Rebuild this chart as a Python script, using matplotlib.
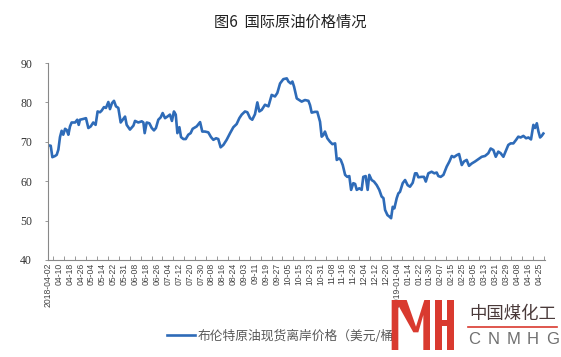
import numpy as np
import matplotlib
matplotlib.use("Agg")
import matplotlib.pyplot as plt
from matplotlib.patches import Polygon, Rectangle

# trading-day position (0 = 2018-04-02) and Brent price
days = [0.2, 1.5, 2.4, 3.9, 4.8, 5.7, 6.6, 7.5, 8.4, 9.4, 10.3, 11.2, 12.1, 13.0, 14.9,
        16.1, 16.9, 17.6, 19.4, 20.9, 22.2, 23.5, 24.9, 26.2, 27.3, 28.6, 29.5, 30.8,
        31.9, 33.2, 34.1, 35.2, 36.3, 37.4, 38.7, 40.0, 41.1, 42.4, 43.3, 45.1, 47.0,
        47.9, 49.7, 51.6, 52.5, 53.2, 54.3, 55.8, 57.1, 58.3, 59.4, 60.7, 62.0, 63.1,
        64.4, 65.7, 67.1, 68.2, 69.3, 70.3, 71.2, 72.3, 73.2, 74.5, 75.8, 77.2, 78.5,
        79.6, 81.8, 83.7, 84.9, 86.4, 88.2, 89.7, 91.0, 92.5, 93.7, 95.0, 96.5, 98.3,
        100.2, 102.0, 103.8, 105.3, 106.6, 108.4, 109.7, 111.2, 112.4, 113.9, 115.2,
        116.3, 117.6, 119.4, 121.3, 123.1, 124.9, 126.2, 127.7, 129.5, 131.4, 132.3,
        133.6, 134.5, 135.4, 136.9, 138.3, 139.6, 141.4, 143.3, 144.2, 145.1, 146.9,
        148.2, 149.7, 150.6, 151.5, 152.4, 153.7, 155.2, 156.5, 158.0, 158.9, 160.2,
        161.1, 162.2, 163.5, 164.7, 165.8, 166.8, 168.0, 169.0, 169.9, 171.3, 172.6,
        173.5, 174.8, 175.9, 176.8, 178.1, 179.4, 180.9, 182.3, 183.6, 184.6, 185.5,
        186.8, 187.9, 188.8, 189.7, 190.6, 191.9, 192.8, 193.7, 195.2, 196.5, 197.9,
        199.2, 200.7, 202.0, 202.9, 203.8, 205.6, 206.9, 207.9, 209.3, 211.1, 212.6,
        213.9, 214.8, 216.1, 217.6, 219.4, 220.9, 222.2, 223.4, 224.9, 226.2, 227.7,
        228.9, 230.4, 231.7, 233.2, 235.0, 236.8, 238.7, 240.5, 242.3, 243.6, 245.1,
        246.4, 247.8, 249.1, 250.6, 252.1, 253.3, 254.6, 256.1, 257.6, 258.8, 260.1,
        261.6, 263.1, 264.4, 265.8, 267.1, 268.0, 269.0, 269.9, 270.8, 271.7, 272.6]
prices = [69.1, 69.0, 66.1, 66.4, 66.7, 68.0, 71.2, 72.8, 71.8, 73.3, 73.0, 71.8, 73.9, 74.9, 74.9,
          75.6, 74.3, 75.6, 75.8, 76.0, 73.5, 73.9, 74.9, 74.3, 77.7, 77.5, 77.9, 78.8,
          78.6, 80.1, 78.3, 79.8, 80.4, 79.0, 78.6, 74.9, 75.6, 76.4, 74.3, 73.1, 74.1,
          75.3, 74.9, 75.2, 74.9, 72.2, 74.9, 74.7, 73.5, 72.9, 73.5, 75.6, 76.2, 77.3,
          76.0, 76.4, 76.9, 75.3, 77.7, 76.9, 72.2, 73.7, 71.2, 70.7, 70.7, 71.8, 72.2,
          73.3, 73.9, 75.0, 72.6, 72.6, 72.4, 71.2, 70.5, 70.9, 70.7, 68.6, 69.2, 70.5,
          72.2, 73.7, 74.5, 76.0, 76.9, 77.7, 77.5, 76.0, 75.6, 77.0, 80.0,
          77.7, 78.1, 79.4, 79.0, 81.9, 81.5, 82.4, 84.8, 85.9, 86.1, 85.3,
          84.8, 85.3, 84.0, 81.0, 80.6, 80.2, 80.6, 80.4, 79.3, 77.4, 77.6,
          77.6, 75.1, 71.3, 71.7, 72.6, 70.9, 70.0, 69.4, 69.6, 65.4, 65.8,
          65.4, 64.1, 61.6, 61.1, 61.3, 57.8, 59.5, 59.3, 57.8, 58.2, 57.8,
          61.1, 61.3, 57.8, 61.6, 60.3, 59.9, 59.0, 57.8, 56.1, 55.7, 52.7,
          51.4, 51.0, 50.6, 53.5, 53.1, 55.7, 56.9, 57.3, 59.5, 60.3, 59.0,
          58.6, 59.6, 62.0, 62.0, 61.0, 61.1, 61.1, 59.9, 62.0, 62.4, 62.0,
          62.2, 61.3, 61.1, 61.6, 63.7, 65.0, 66.4, 66.1, 66.6, 66.9, 64.1,
          65.0, 65.4, 63.9, 64.5, 65.0, 65.6, 66.2, 66.4, 67.1, 68.3, 67.9,
          66.2, 67.5, 67.1, 66.2, 67.9, 69.2, 69.6, 69.6, 70.5, 71.3, 71.1,
          71.5, 70.9, 71.1, 70.6, 74.3, 73.5, 74.7, 72.6, 71.1, 71.5, 72.1]

date_labels = ["2018-04-02", "04-10", "04-18", "04-26", "05-04", "05-14", "05-22", "05-31",
               "06-08", "06-18", "06-26", "07-04", "07-12", "07-20", "07-30", "08-08",
               "08-16", "08-24", "09-03", "09-11", "09-19", "09-27", "10-05", "10-15",
               "10-23", "10-31", "11-08", "11-16", "11-26", "12-04", "12-12", "12-20",
               "2019-01-04", "01-14", "01-22", "01-30", "02-07", "02-15", "02-25", "03-05",
               "03-13", "03-21", "03-29", "04-08", "04-16", "04-25"]
days_per_label = 6

cjk = ['Noto Sans CJK SC', 'DejaVu Sans']
W, H = 561, 357
fig = plt.figure(figsize=(W / 100, H / 100), dpi=100)
ax = fig.add_axes([48 / W, 1 - 260 / H, (545 - 48) / W, (260 - 63) / H])

line, = ax.plot(days, prices, color='#2e6bb8', lw=1.9, solid_joinstyle='round',
                label='布伦特原油现货离岸价格（美元/桶）')

ax.set_xlim(0, 273.5)
ax.set_ylim(40, 90)
ax.set_yticks(np.arange(40, 91, 10))
ax.set_yticklabels([str(v) for v in range(40, 91, 10)])
for t in ax.get_yticklabels():
    t.set_fontfamily('Liberation Serif')
    t.set_fontsize(8.5)
    t.set_color('#333333')

pos = np.arange(len(date_labels)) * days_per_label
ax.set_xticks(pos)
ax.set_xticklabels(date_labels, rotation=90, family='Liberation Sans', fontsize=6.2,
                   color='#444444')
ax.set_xticks(pos + days_per_label / 2, minor=True)
ax.tick_params(axis='x', which='major', length=0, pad=2)
ax.tick_params(axis='x', which='minor', length=3, direction='in', color='#888888', width=0.6)
ax.tick_params(axis='y', length=2.5, direction='out', color='#888888', width=0.6, pad=9)

for s in ['top', 'right']:
    ax.spines[s].set_visible(False)
for s in ['left', 'bottom']:
    ax.spines[s].set_color('#888888')
    ax.spines[s].set_linewidth(0.8)

fig.text(290 / W, 1 - 22 / H, '图6  国际原油价格情况', family=cjk, fontsize=11,
         ha='center', va='center', color='#222222')

leg = ax.legend(handles=[line], loc='center left', bbox_to_anchor=(167 / W, 1 - 336 / H),
                bbox_transform=fig.transFigure, frameon=False, handlelength=2.2,
                handletextpad=0.2, borderaxespad=0, borderpad=0,
                prop={'family': cjk, 'size': 9.2})
for t in leg.get_texts():
    t.set_color('#595959')

# watermark logo (bottom right)
red = '#d93a2f'


def px(x, y):
    return (x / W, 1 - y / H)


def zpt(zx, zy):
    return px(380 + zx / 3, 295 + zy / 3)


m_shape = [zpt(35, 15), zpt(80, 15), zpt(108, 95), zpt(133, 15), zpt(150, 15),
           zpt(150, 165), zpt(130, 165), zpt(130, 60), zpt(115, 112), zpt(100, 112),
           zpt(57, 35), zpt(55, 35), zpt(55, 165), zpt(35, 165)]
fig.patches.append(Polygon(m_shape, closed=True, transform=fig.transFigure,
                           facecolor=red, edgecolor='none', zorder=5))
for zx0, zx1, zy0, zy1 in [(165, 186, 15, 165), (200, 222, 15, 165), (165, 222, 75, 93)]:
    x0, y0 = zpt(zx0, zy1)
    x1, y1 = zpt(zx1, zy0)
    fig.patches.append(Rectangle((x0, y0), x1 - x0, y1 - y0, transform=fig.transFigure,
                                 facecolor=red, edgecolor='none', zorder=5))

fig.text(*px(469, 314), '中国煤化工', family=cjk, fontsize=12.5, ha='left', va='center',
         color='#4a3a3a', zorder=6)
fig.add_artist(plt.Line2D([468 / W, 557 / W], [1 - 327 / H, 1 - 327 / H], color=red,
                          lw=1.2, transform=fig.transFigure, zorder=6))
for i, ch in enumerate('CNMHG'):
    fig.text(*px(474 + i * 19.6, 339), ch, family='Liberation Sans', fontsize=12,
             ha='center', va='center', color='#707070', zorder=6)

fig.savefig('out.png', dpi=100)
